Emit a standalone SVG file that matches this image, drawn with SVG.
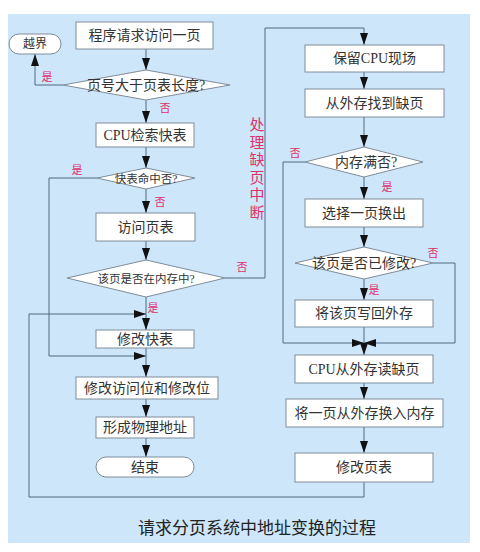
<svg xmlns="http://www.w3.org/2000/svg" width="480" height="552" viewBox="0 0 480 552">
  <defs>
    <marker id="arr" markerUnits="userSpaceOnUse" markerWidth="12" markerHeight="8" refX="12" refY="4" orient="auto">
      <path d="M0,0 L12,4 L0,8 z" fill="#111"/>
    </marker>
    <style>
      .box{fill:#fff;stroke:#7f8c99;stroke-width:1}
      .dia{fill:#fff;stroke:#7f8c99;stroke-width:1}
      .t{font-family:"Liberation Serif","Noto Sans CJK SC",serif;font-size:14px;fill:#333;text-anchor:middle;dominant-baseline:central}
      .ts{font-size:11.5px}
      .lab{font-family:"Liberation Serif","Noto Sans CJK SC",serif;font-size:11px;fill:#e0306a;text-anchor:middle;dominant-baseline:central}
      .vert{font-family:"Liberation Serif","Noto Sans CJK SC",serif;font-size:15px;fill:#e0306a;text-anchor:middle;dominant-baseline:central}
      .c{fill:none;stroke:#4e6a80;stroke-width:1}
      .ca{fill:none;stroke:#4e6a80;stroke-width:1;marker-end:url(#arr)}
      .cap{font-family:"Liberation Serif","Noto Sans CJK SC",serif;font-size:17px;fill:#222;text-anchor:middle}
    </style>
  </defs>

  <rect x="0" y="0" width="480" height="552" fill="#fff"/>
  <rect x="8" y="14" width="462" height="529" fill="#cde6fa"/>

  <!-- connectors -->
  <g id="connectors">
    <path class="ca" d="M146,49 V70"/>
    <path class="ca" d="M63,85 H35 V54"/>
    <path class="ca" d="M146,100 V123"/>
    <path class="ca" d="M146,147 V168"/>
    <path class="ca" d="M146,189 V213"/>
    <path class="ca" d="M97,178 H49 V356 H146"/>
    <path class="ca" d="M146,241 V260"/>
    <path class="ca" d="M146,297 V330"/>
    <path class="ca" d="M225,278 H265 V28 H364 V45"/>
    <path class="ca" d="M364,72 V89"/>
    <path class="ca" d="M364,117 V147"/>
    <path class="ca" d="M364,177 V199"/>
    <path class="ca" d="M305,162 H283 V343 H364"/>
    <path class="ca" d="M364,227 V247"/>
    <path class="ca" d="M364,279 V300"/>
    <path class="ca" d="M433,263 H455 V343 H364"/>
    <path class="ca" d="M364,327 V355"/>
    <path class="ca" d="M364,383 V399"/>
    <path class="ca" d="M364,427 V453"/>
    <path class="ca" d="M364,482 V497 H29 V314 H146"/>
    <path class="ca" d="M146,348 V377"/>
    <path class="ca" d="M146,399 V417"/>
    <path class="ca" d="M146,438 V457"/>
  </g>

  <!-- left column -->
  <g id="start"><rect class="box" x="76" y="22" width="137" height="27"/><text class="t" x="144.5" y="35.5">程序请求访问一页</text></g>
  <g id="outOfRange"><rect class="box" x="9" y="34" width="52" height="20" rx="10"/><text class="t" x="35" y="44" style="font-size:12px">越界</text></g>
  <g id="checkLength"><polygon class="dia" points="63,85 146,70 230,85 146,100"/><text class="t" x="146" y="85">页号大于页表长度?</text></g>
  <g id="searchTLB"><rect class="box" x="96" y="123" width="98" height="24"/><text class="t" x="145" y="135">CPU检索快表</text></g>
  <g id="tlbHit"><polygon class="dia" points="97,178 146,168 195,178 146,189"/><text class="t ts" x="146" y="178.5">快表命中否?</text></g>
  <g id="visitPageTable"><rect class="box" x="96" y="213" width="99" height="28"/><text class="t" x="145.5" y="227">访问页表</text></g>
  <g id="inMemory"><polygon class="dia" points="67,278 146,260 225,278 146,297"/><text class="t ts" x="146" y="278.5">该页是否在内存中?</text></g>
  <g id="updateTLB"><rect class="box" x="96" y="330" width="98" height="18"/><text class="t" x="145" y="339">修改快表</text></g>
  <g id="updateBits"><rect class="box" x="76" y="377" width="142" height="22"/><text class="t" x="147" y="388">修改访问位和修改位</text></g>
  <g id="physAddr"><rect class="box" x="96" y="417" width="98" height="21"/><text class="t" x="145" y="427.5">形成物理地址</text></g>
  <g id="end"><rect class="box" x="96" y="457" width="98" height="20" rx="10"/><text class="t" x="145" y="467">结束</text></g>

  <!-- right column -->
  <g id="saveCPU"><rect class="box" x="305" y="45" width="139" height="27"/><text class="t" x="374.5" y="58.5">保留CPU现场</text></g>
  <g id="findPage"><rect class="box" x="305" y="89" width="139" height="28"/><text class="t" x="374.5" y="103">从外存找到缺页</text></g>
  <g id="memFull"><polygon class="dia" points="305,162 364,147 423,162 364,177"/><text class="t" x="366" y="162">内存满否?</text></g>
  <g id="selectVictim"><rect class="box" x="305" y="199" width="118" height="28"/><text class="t" x="364" y="213">选择一页换出</text></g>
  <g id="modified"><polygon class="dia" points="295,263 364,247 433,263 364,279"/><text class="t" x="364" y="263">该页是否已修改?</text></g>
  <g id="writeBack"><rect class="box" x="295" y="300" width="138" height="27"/><text class="t" x="364" y="313.5">将该页写回外存</text></g>
  <g id="readPage"><rect class="box" x="295" y="355" width="138" height="28"/><text class="t" x="364" y="369">CPU从外存读缺页</text></g>
  <g id="swapIn"><rect class="box" x="286" y="399" width="157" height="28"/><text class="t" x="364.5" y="413">将一页从外存换入内存</text></g>
  <g id="updatePageTable"><rect class="box" x="295" y="453" width="138" height="29"/><text class="t" x="364" y="467.5">修改页表</text></g>

  <!-- branch labels -->
  <g id="labels">
    <text class="lab" x="47" y="77">是</text>
    <text class="lab" x="165" y="108">否</text>
    <text class="lab" x="77" y="170">是</text>
    <text class="lab" x="160" y="202">否</text>
    <text class="lab" x="242" y="267">否</text>
    <text class="lab" x="153" y="308">是</text>
    <text class="lab" x="295" y="153">否</text>
    <text class="lab" x="387" y="187">是</text>
    <text class="lab" x="433" y="253">否</text>
    <text class="lab" x="374" y="290">是</text>
  </g>

  <g id="pageFaultNote">
    <text class="vert" x="257" y="125">处</text>
    <text class="vert" x="257" y="143">理</text>
    <text class="vert" x="257" y="160">缺</text>
    <text class="vert" x="257" y="178">页</text>
    <text class="vert" x="257" y="195">中</text>
    <text class="vert" x="257" y="213">断</text>
  </g>

  <text class="cap" x="257" y="534">请求分页系统中地址变换的过程</text>
</svg>
